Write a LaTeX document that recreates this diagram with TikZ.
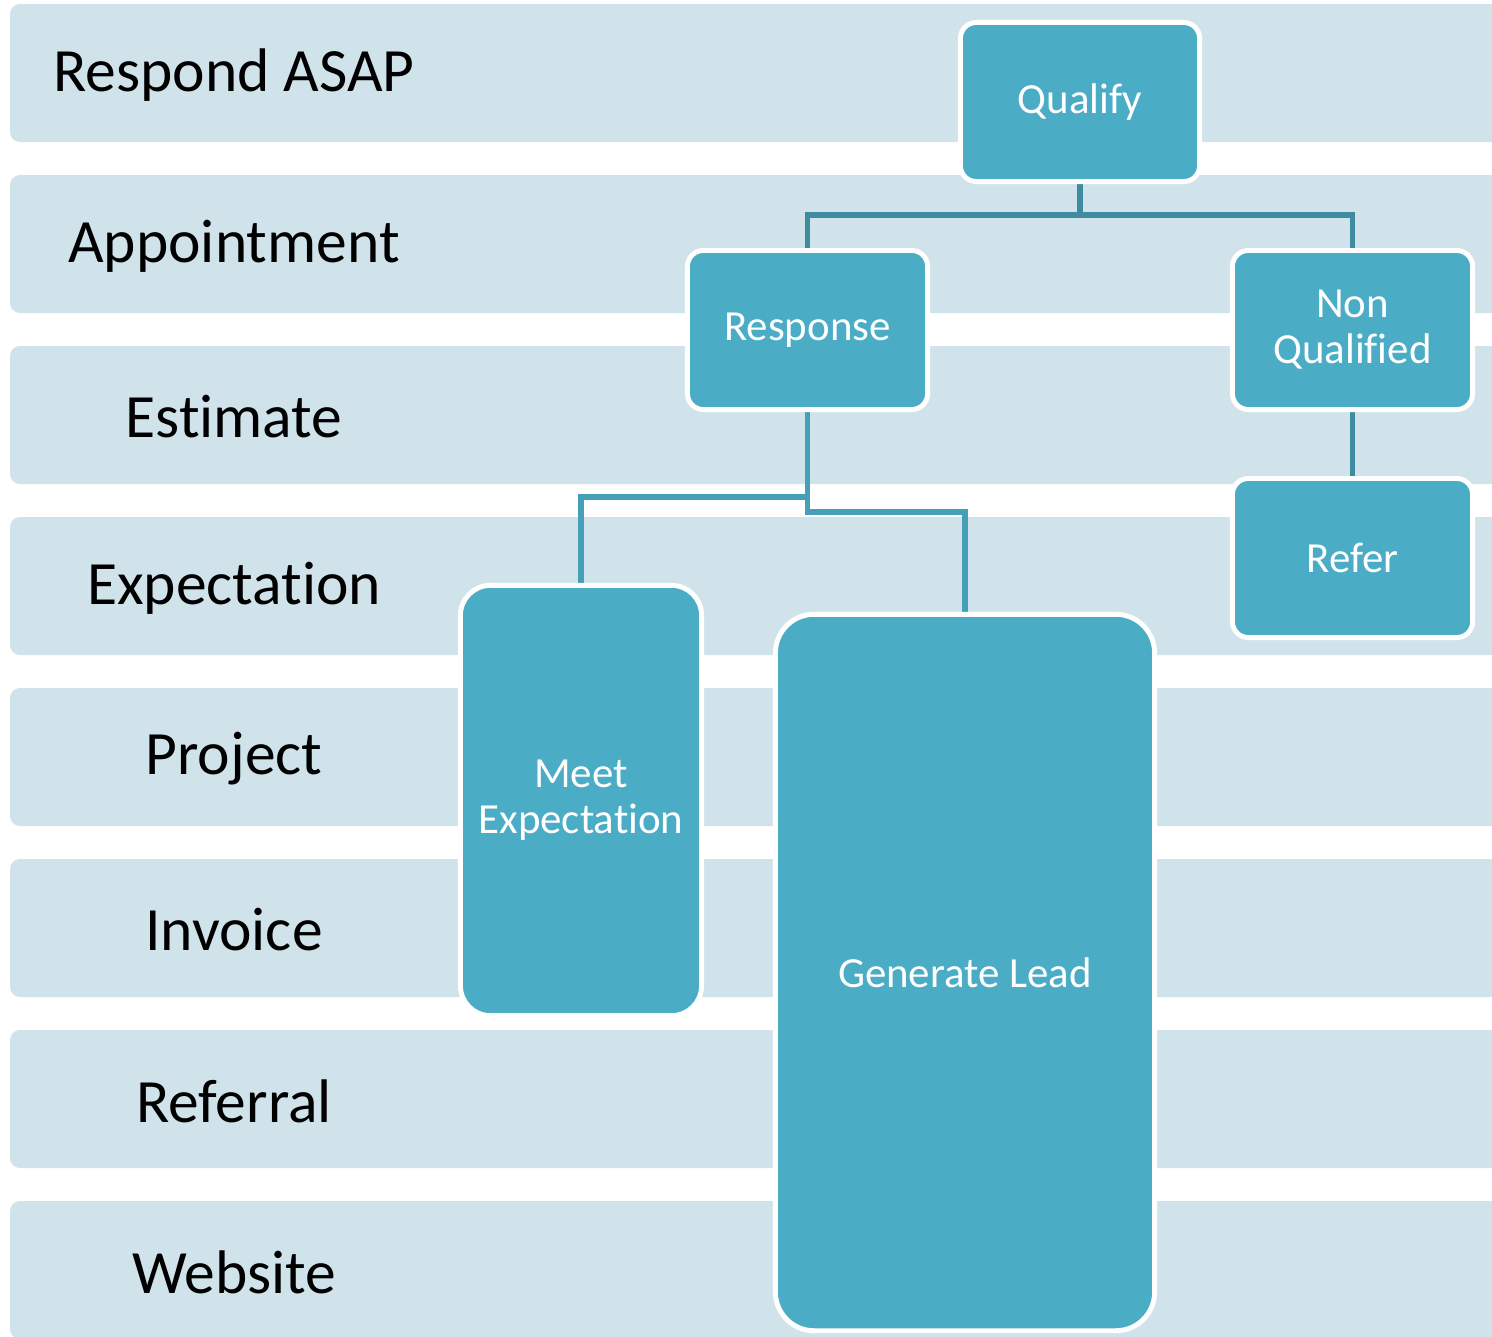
\documentclass[tikz,border=0pt]{standalone}
\usepackage{fontspec}
\setmainfont{Carlito}[Ligatures=NoCommon]
\usetikzlibrary{backgrounds}
\definecolor{bandc}{HTML}{D0E3EA}
\definecolor{boxc}{HTML}{4BACC6}
\definecolor{lineA}{HTML}{3D8CA0}
\definecolor{lineB}{HTML}{459FB6}
\tikzset{
  band/.style={fill=bandc, draw=none, rounded corners=10*0.2845pt},
  lbl/.style={font=\fontsize{17.5}{21}\selectfont, text=black, anchor=center},
  fbox/.style={fill=boxc, draw=white, line width=1.4pt, text=white, align=center,
    font=\fontsize{12.2}{13.1}\selectfont, inner sep=0pt, rounded corners=4.5pt},
  connA/.style={draw=lineA, line width=1.45pt},
  connB/.style={draw=lineB, line width=1.45pt},
}
\begin{document}
\begin{tikzpicture}[x=0.01cm, y=-0.01cm]
\useasboundingbox (0,0) rectangle (1492,1336);
\clip (0,0) rectangle (1492,1336);
\begin{pgfonlayer}{background}
\foreach \k in {0,...,7}{
  \fill[band] (10,{4+171*\k}) rectangle (1520,{142+171*\k});
}
\end{pgfonlayer}
\node[lbl] (l1) at (234,75) {Respond ASAP};
\node[lbl] (l2) at (234,246) {Appointment};
\node[lbl] (l3) at (234,417) {Estimate};
\node[lbl] (l4) at (234,588) {Expectation};
\node[lbl] (l5) at (234,759) {Project};
\node[lbl] (l6) at (234,930) {Invoice};
\node[lbl] (l7) at (234,1101) {Referral};
\node[lbl] (l8) at (234,1272) {Website};

\node[fbox, minimum width=2.39cm, minimum height=1.59cm] (q) at (1080,102) {Qualify};
\node[fbox, minimum width=2.40cm, minimum height=1.59cm] (r) at (807.5,330) {Response};
\node[fbox, minimum width=2.40cm, minimum height=1.59cm] (nq) at (1352.5,330) {Non\\Qualified};
\node[fbox, minimum width=2.40cm, minimum height=1.59cm] (rf) at (1352.5,558) {Refer};
\node[fbox, minimum width=2.41cm, minimum height=4.30cm, rounded corners=8.5pt] (me) at (581,800.5) {Meet\\Expectation};
\node[fbox, minimum width=3.79cm, minimum height=7.16cm, rounded corners=11pt] (gl) at (965,972.5) {Generate Lead};

\begin{pgfonlayer}{background}
\draw[connA] (q.south) -- ++(0,31) -| (r.north);
\draw[connA] (q.south) -- ++(0,31) -| (nq.north);
\draw[connA] (nq.south) -- (rf.north);
\draw[connB] (r.south) -- ++(0,85) -| (me.north);
\draw[connB] (r.south) -- ++(0,100) -| (gl.north);
\end{pgfonlayer}
\end{tikzpicture}
\end{document}
